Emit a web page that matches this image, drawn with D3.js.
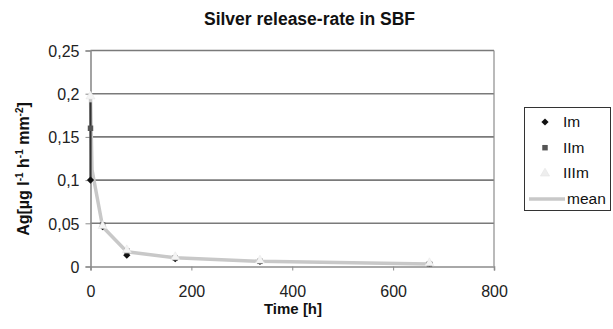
<!DOCTYPE html>
<html><head><meta charset="utf-8">
<script src="https://cdn.jsdelivr.net/npm/d3@7"></script>
<style>body{margin:0;background:#fff}svg{font-family:Arial,"Liberation Sans",sans-serif}</style>
</head><body><svg id="c" width="613" height="329"></svg>
<script>
const times = [0, 24, 72, 168, 336, 672];
const seriesIm   = [0.100, 0.046, 0.013, 0.009, 0.006, 0.004];
const seriesIIm  = [0.160, 0.048, 0.018, 0.010, 0.006, 0.003];
const seriesIIIm = [0.197, 0.047, 0.019, 0.011, 0.007, 0.004];
const meanTimes  = [0, 3, 24, 72, 168, 336, 672];
const meanVals   = [0.195, 0.112, 0.046, 0.017, 0.010, 0.006, 0.003];
const rangeTime = 0, rangeLow = 0.100, rangeHigh = 0.190;
const xTicks = [0, 200, 400, 600, 800];
const yTicks = [0, 0.05, 0.1, 0.15, 0.2, 0.25];
const legendLabels = ["Im", "IIm", "IIIm", "mean"];

const svg = d3.select("#c");
const x = d3.scaleLinear().domain([0, 800]).range([90.5, 494]);
const y = d3.scaleLinear().domain([0, 0.25]).range([266.5, 50.5]);
const fmt = d => d3.format(",")(d).replace(".", ",");
const FF = "Arial, 'Liberation Sans', sans-serif";

// gridlines
svg.append("g").selectAll("line").data(yTicks.slice(1)).join("line")
  .attr("x1", x(0)).attr("x2", x(800)).attr("y1", d => y(d)).attr("y2", d => y(d))
  .attr("stroke", "#7a7a7a").attr("stroke-width", 1.6);
// right border
svg.append("line").attr("x1", x(800)).attr("x2", x(800)).attr("y1", y(0.25)).attr("y2", y(0))
  .attr("stroke", "#8c8c8c").attr("stroke-width", 1.2);

// axes
const xa = svg.append("g").attr("transform", `translate(0,${y(0)})`)
  .call(d3.axisBottom(x).tickValues(xTicks).tickSize(4).tickFormat(d => d));
const ya = svg.append("g").attr("transform", `translate(${x(0)},0)`)
  .call(d3.axisLeft(y).tickValues(yTicks).tickSize(5).tickFormat(fmt));
[xa, ya].forEach(a => {
  a.select(".domain").attr("stroke", "#8c8c8c").attr("stroke-width", 1.6);
  a.selectAll(".tick line").attr("stroke", "#8c8c8c");
  a.selectAll("text").attr("font-size", 16).attr("fill", "#222").attr("font-family", FF);
});
xa.selectAll("text").attr("y", 0).attr("dy", 0).attr("transform", "translate(0,30)");
ya.selectAll("text").attr("x", -11).attr("dy", "0.36em");

// mean line
const line = d3.line().x(d => x(d[0])).y(d => y(d[1]));
svg.append("path").datum(meanTimes.map((t, i) => [t, meanVals[i]]))
  .attr("d", line).attr("fill", "none").attr("stroke", "#c8c8c8").attr("stroke-width", 3.5)
  .attr("stroke-linejoin", "round");

// dark range line at t=0
svg.append("line").attr("x1", x(rangeTime)).attr("x2", x(rangeTime))
  .attr("y1", y(rangeHigh)).attr("y2", y(rangeLow))
  .attr("stroke", "#333").attr("stroke-width", 2.2);

// markers
const diamond = d3.symbol().type(d3.symbolSquare).size(26);
const square = d3.symbol().type(d3.symbolSquare).size(30);
const tri = d3.symbol().type(d3.symbolTriangle).size(36);
svg.append("g").selectAll("path").data(times.map((t, i) => [t, seriesIm[i]])).join("path")
  .attr("d", diamond).attr("transform", d => `translate(${x(d[0])},${y(d[1])}) rotate(45)`)
  .attr("fill", "#111");
svg.append("g").selectAll("path").data(times.map((t, i) => [t, seriesIIm[i]])).join("path")
  .attr("d", square).attr("transform", d => `translate(${x(d[0])},${y(d[1])})`)
  .attr("fill", "#555");
svg.append("g").selectAll("path").data(times.map((t, i) => [t, seriesIIIm[i]])).join("path")
  .attr("d", tri).attr("transform", d => `translate(${x(d[0])},${y(d[1])})`)
  .attr("fill", "#f4f4f4").attr("stroke", "#e4e4e4").attr("stroke-width", 0.5);

// titles
svg.append("text").attr("x", 309.5).attr("y", 25).attr("text-anchor", "middle")
  .attr("font-size", 17.5).attr("font-weight", "bold").attr("fill", "#111").attr("font-family", FF)
  .text("Silver release-rate in SBF");
svg.append("text").attr("x", 293).attr("y", 314).attr("text-anchor", "middle")
  .attr("font-size", 15).attr("font-weight", "bold").attr("fill", "#111").attr("font-family", FF).text("Time [h]");
const yt = svg.append("text").attr("transform", "translate(29,169) rotate(-90)")
  .attr("text-anchor", "middle").attr("font-size", 16).attr("font-weight", "bold").attr("fill", "#111").attr("font-family", FF);
yt.append("tspan").text("Ag[µg l");
yt.append("tspan").attr("dy", -6).attr("font-size", 10).text("-1");
yt.append("tspan").attr("dy", 6).text(" h");
yt.append("tspan").attr("dy", -6).attr("font-size", 10).text("-1");
yt.append("tspan").attr("dy", 6).text(" mm");
yt.append("tspan").attr("dy", -6).attr("font-size", 10).text("-2");
yt.append("tspan").attr("dy", 6).text("]");

// legend
const lg = svg.append("g");
lg.append("rect").attr("x", 524.5).attr("y", 107.5).attr("width", 86).attr("height", 103)
  .attr("fill", "#fff").attr("stroke", "#333").attr("stroke-width", 1);
const ly = i => 122 + i * 25.7;
lg.append("path").attr("d", diamond).attr("transform", `translate(545,${ly(0)}) rotate(45)`).attr("fill", "#111");
lg.append("path").attr("d", square).attr("transform", `translate(545,${ly(1)})`).attr("fill", "#555");
lg.append("path").attr("d", tri).attr("transform", `translate(545,${ly(2)})`).attr("fill", "#eeeeee").attr("stroke", "#e0e0e0").attr("stroke-width", 0.5);
lg.append("line").attr("x1", 529).attr("x2", 565).attr("y1", ly(3)).attr("y2", ly(3))
  .attr("stroke", "#c8c8c8").attr("stroke-width", 3.5);
lg.selectAll("text").data(legendLabels).join("text")
  .attr("x", (d, i) => i === 3 ? 567 : 563).attr("y", (d, i) => ly(i) + 5)
  .attr("font-size", 15.5).attr("fill", "#111").attr("font-family", FF).text(d => d);
</script></body></html>
